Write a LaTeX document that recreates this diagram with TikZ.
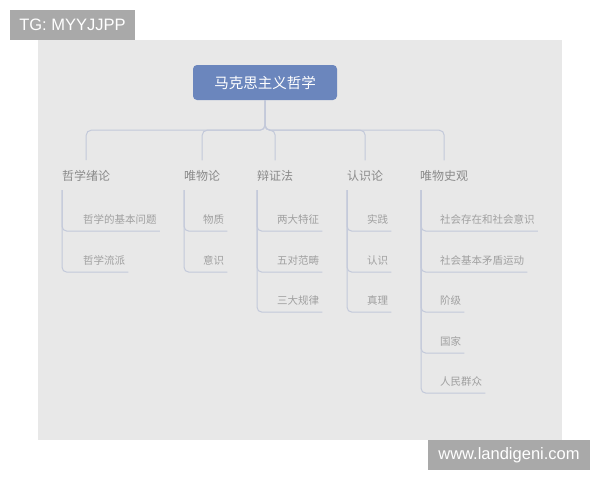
\documentclass[tikz,border=0pt]{standalone}
\usepackage{fontspec}
\newfontfamily\cjk{Noto Sans CJK SC}
\setsansfont{Liberation Sans}
\definecolor{panel}{HTML}{E8E8E8}
\definecolor{rootblue}{HTML}{6B86BD}
\definecolor{linec}{HTML}{C3C9DA}
\definecolor{catc}{HTML}{8A8A8A}
\definecolor{chc}{HTML}{A0A0A0}
\definecolor{wm}{HTML}{A9A9A9}
\begin{document}
\begin{tikzpicture}[x=1pt,y=-1pt,
  rootbox/.style={fill=rootblue,rounded corners=4pt,minimum width=144pt,minimum height=35pt,inner sep=0pt,text=white,font=\cjk\fontsize{14.5}{16}\selectfont},
  cat/.style={inner sep=0pt,anchor=west,text=catc,font=\cjk\fontsize{12}{14}\selectfont},
  ch/.style={inner sep=0pt,anchor=west,text=chc,text height=8pt,text depth=2pt,font=\cjk\fontsize{10.5}{12}\selectfont},
  conn/.style={draw=linec,line width=1pt,rounded corners=5pt},
  wmbox/.style={fill=wm,text=white,inner sep=0pt,font=\sffamily\fontsize{16.5}{18}\selectfont}]
\useasboundingbox (0,0) rectangle (600,480);
\fill[white] (0,0) rectangle (600,480);
\fill[panel] (38,40) rectangle (562,440);
\node[wmbox,minimum width=125pt,minimum height=30pt] (wm1) at (72.5,25) {TG: MYYJJPP};
\node[wmbox,minimum width=162pt,minimum height=30pt] (wm2) at (509,455) {www.landigeni.com};

\node[rootbox] (root) at (265,82.5) {马克思主义哲学};

\node[cat] (c1) at (62,176) {哲学绪论};
\node[cat] (c2) at (184,176) {唯物论};
\node[cat] (c3) at (257,176) {辩证法};
\node[cat] (c4) at (347,176) {认识论};
\node[cat] (c5) at (420,176) {唯物史观};

\foreach \c in {c1,c2,c3,c4,c5}{
  \draw[conn] (root.south) -- ++(0,30) -| ([yshift=10pt]\c.north);
}

\coordinate (v1) at (62,190);
\coordinate (v2) at (184,190);
\coordinate (v3) at (257,190);
\coordinate (v4) at (347,190);
\coordinate (v5) at (421,190);

\node[ch] (a1) at (83,220) {哲学的基本问题};
\node[ch] (a2) at (83,261) {哲学流派};
\node[ch] (b1) at (203,220) {物质};
\node[ch] (b2) at (203,261) {意识};
\node[ch] (d1) at (277,220) {两大特征};
\node[ch] (d2) at (277,261) {五对范畴};
\node[ch] (d3) at (277,301) {三大规律};
\node[ch] (e1) at (367,220) {实践};
\node[ch] (e2) at (367,261) {认识};
\node[ch] (e3) at (367,301) {真理};
\node[ch] (f1) at (440,220) {社会存在和社会意识};
\node[ch] (f2) at (440,261) {社会基本矛盾运动};
\node[ch] (f3) at (440,301) {阶级};
\node[ch] (f4) at (440,342) {国家};
\node[ch] (f5) at (440,382) {人民群众};

\draw[conn] (v1) |- ([xshift=3pt,yshift=-6pt]a1.south east);
\draw[conn] (v1) |- ([xshift=3pt,yshift=-6pt]a2.south east);
\draw[conn] (v2) |- ([xshift=3pt,yshift=-6pt]b1.south east);
\draw[conn] (v2) |- ([xshift=3pt,yshift=-6pt]b2.south east);
\foreach \n in {d1,d2,d3}{\draw[conn] (v3) |- ([xshift=3pt,yshift=-6pt]\n.south east);}
\foreach \n in {e1,e2,e3}{\draw[conn] (v4) |- ([xshift=3pt,yshift=-6pt]\n.south east);}
\foreach \n in {f1,f2,f3,f4,f5}{\draw[conn] (v5) |- ([xshift=3pt,yshift=-6pt]\n.south east);}
\end{tikzpicture}
\end{document}
